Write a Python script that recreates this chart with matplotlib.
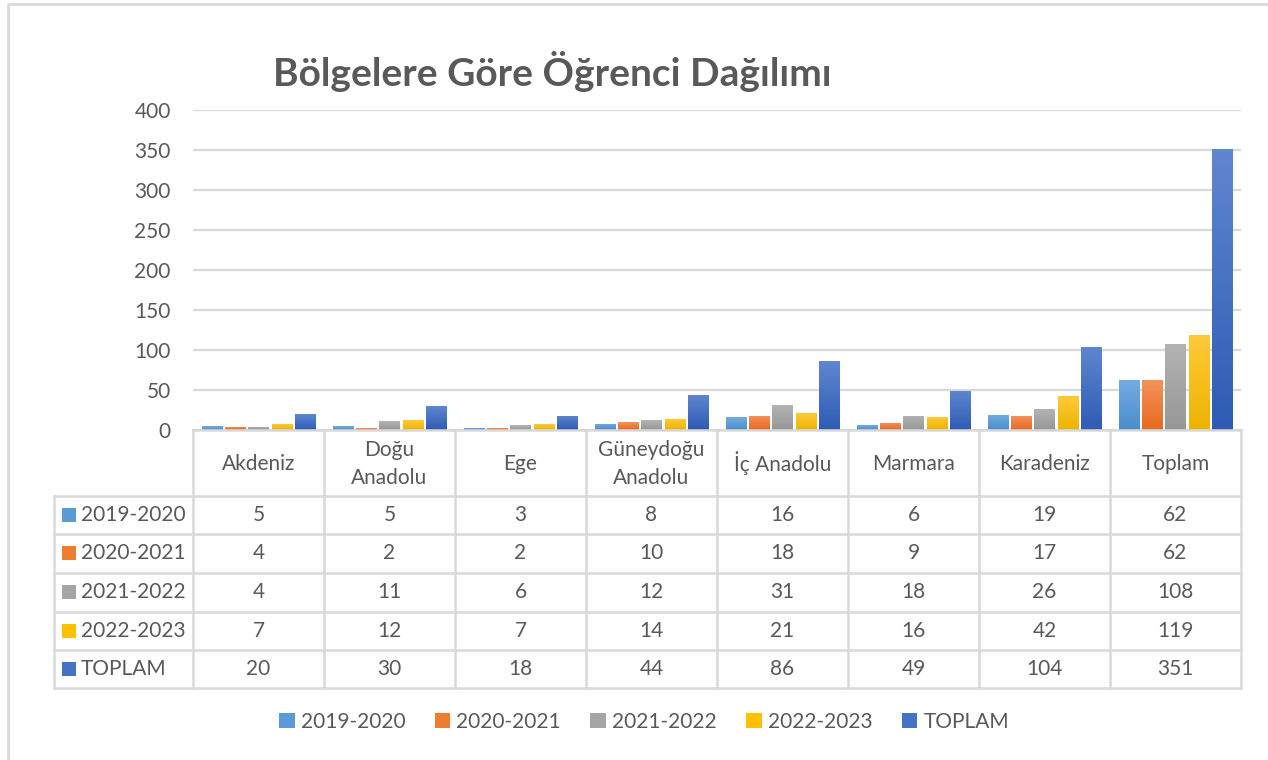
import numpy as np
import matplotlib
matplotlib.use("Agg")
import matplotlib.pyplot as plt
from matplotlib.colors import LinearSegmentedColormap
from matplotlib.patches import Rectangle, Patch
from matplotlib.lines import Line2D
from matplotlib.transforms import blended_transform_factory

plt.rcParams['font.family'] = ['Lato', 'DejaVu Sans']

title = "Bölgelere Göre Öğrenci Dağılımı"
categories = ["Akdeniz", "Doğu\nAnadolu", "Ege", "Güneydoğu\nAnadolu", "İç Anadolu",
              "Marmara", "Karadeniz", "Toplam"]
series_names = ["2019-2020", "2020-2021", "2021-2022", "2022-2023", "TOPLAM"]
v_2019_2020 = [5, 5, 3, 8, 16, 6, 19, 62]
v_2020_2021 = [4, 2, 2, 10, 18, 9, 17, 62]
v_2021_2022 = [4, 11, 6, 12, 31, 18, 26, 108]
v_2022_2023 = [7, 12, 7, 14, 21, 16, 42, 119]
v_toplam = [20, 30, 18, 44, 86, 49, 104, 351]
series_values = [v_2019_2020, v_2020_2021, v_2021_2022, v_2022_2023, v_toplam]
yticks = [0, 50, 100, 150, 200, 250, 300, 350, 400]

# gradient colours (top, bottom) and flat colour
grad_colors = [("#74ACE0", "#4A8DCE"), ("#F2935D", "#E8691E"), ("#B3B3B3", "#979797"),
               ("#FFCA3A", "#EDB300"), ("#5F86CF", "#2E5CB4")]
flat_colors = ["#5B9BD5", "#ED7D31", "#A5A5A5", "#FFC000", "#4472C4"]
text_color = "#595959"
grid_color = "#D9D9D9"
fs = 15

W, H = 1268, 760
fig = plt.figure(figsize=(W / 100, H / 100), dpi=100)
fig.patch.set_facecolor("white")

# outer chart border
fig.add_artist(Rectangle((8 / W, 1 - 4 / H), 2, -2, transform=fig.transFigure,
                         fill=False, edgecolor=grid_color, linewidth=2))

ax_l, ax_r, ax_t, ax_b = 193, 1241, 110, 430
ax = fig.add_axes([ax_l / W, 1 - ax_b / H, (ax_r - ax_l) / W, (ax_b - ax_t) / H])
ax.set_xlim(0, len(categories))
ax.set_ylim(0, 400)
for s in ax.spines.values():
    s.set_visible(False)
ax.set_yticks(yticks)
ax.set_yticklabels([str(t) for t in yticks], fontsize=fs, color=text_color)
ax.tick_params(axis='y', length=0, pad=16)
ax.set_xticks([])
for t in yticks:
    ax.axhline(t, color=grid_color, linewidth=1.6, zorder=0)

bar_w = 0.153
step = 0.178
x = np.arange(len(categories)) + 0.5
for k, vals in enumerate(series_values):
    xs = x + (k - 2) * step
    # soft shadow
    ax.bar(xs + 0.004, vals, width=bar_w, bottom=0, color="#000000", alpha=0.10,
           zorder=1, linewidth=0)
    bars = ax.bar(xs, vals, width=bar_w, color=flat_colors[k], zorder=2, linewidth=0)
    cmap = LinearSegmentedColormap.from_list("g%d" % k, [grad_colors[k][1], grad_colors[k][0]])
    grad = np.linspace(0, 1, 64).reshape(-1, 1)
    for b in bars:
        x0, w_, h_ = b.get_x(), b.get_width(), b.get_height()
        im = ax.imshow(grad, extent=[x0, x0 + w_, 0, h_], origin="lower", cmap=cmap,
                       aspect="auto", zorder=3, interpolation="bicubic")
        im.set_clip_path(b)
ax.set_xlim(0, len(categories))
ax.set_ylim(0, 400)

# ---- data table ----
def ay(ypx):
    return (ax_b - ypx) / (ax_b - ax_t)

def axx(xpx):
    return (xpx - ax_l) / (ax_r - ax_l)

bt = blended_transform_factory(ax.transData, ax.transAxes)
row_lines = [496, 534, 573, 612, 650, 688]
row_centers = [515, 553, 592, 631, 669]
lw = 1.8
# axis line / header top
ax.add_line(Line2D([0, len(categories)], [0, 0], transform=bt, color=grid_color, lw=lw,
                   clip_on=False, zorder=4))
# column lines
for i in range(len(categories) + 1):
    ax.add_line(Line2D([i, i], [ay(430), ay(688)], transform=bt, color=grid_color, lw=lw,
                       clip_on=False))
# row lines
for r in row_lines:
    ax.add_line(Line2D([axx(54), 1.0], [ay(r), ay(r)], transform=ax.transAxes,
                       color=grid_color, lw=lw, clip_on=False))
ax.add_line(Line2D([axx(54), axx(54)], [ay(496), ay(688)], transform=ax.transAxes,
                   color=grid_color, lw=lw, clip_on=False))

for i, c in enumerate(categories):
    ax.text(i + 0.5, ay(463.5), c, transform=bt, ha="center", va="center", fontsize=fs,
            color=text_color, linespacing=1.5)

for k, name in enumerate(series_names):
    yc = ay(row_centers[k])
    ax.add_patch(Rectangle((axx(62), yc - 7 / 320), 14 / 1048, 14 / 320,
                           transform=ax.transAxes, facecolor=flat_colors[k],
                           edgecolor="none", clip_on=False))
    ax.text(axx(81), yc, name, transform=ax.transAxes, ha="left", va="center",
            fontsize=fs, color=text_color)
    for i, v in enumerate(series_values[k]):
        ax.text(i + 0.5, yc, str(v), transform=bt, ha="center", va="center",
                fontsize=fs, color=text_color)

# title
fig.text(552 / W, 1 - 71 / H, title, ha="center", va="center", fontsize=28,
         fontweight="bold", color=text_color)

# legend
handles = [Patch(facecolor=c, edgecolor="none") for c in flat_colors]
fig.legend(handles, series_names, loc="center", bbox_to_anchor=(644 / W, 1 - 722 / H),
           ncol=5, frameon=False, fontsize=fs, handlelength=0.75, handleheight=0.75,
           handletextpad=0.3, columnspacing=1.4, labelcolor=text_color)

fig.savefig("out.png", dpi=100)
